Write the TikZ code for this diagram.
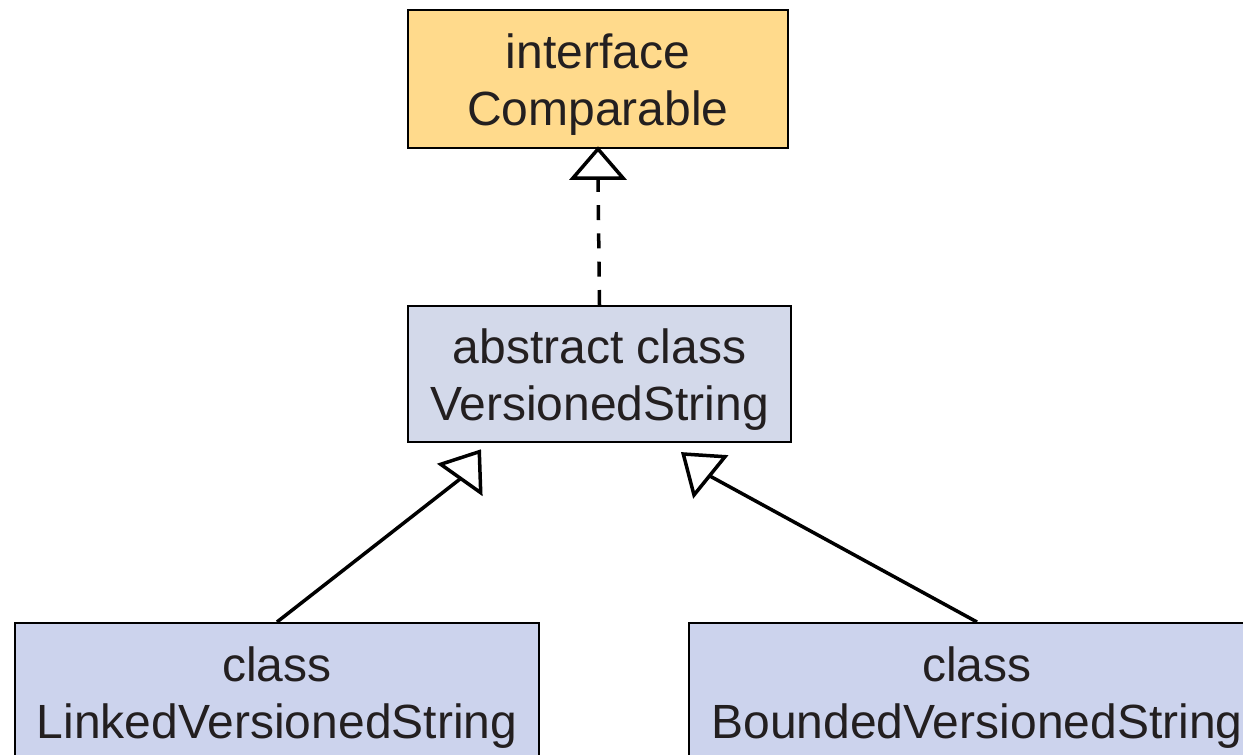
\documentclass[tikz,border=0pt]{standalone}
\usepackage{fontspec}
\setmainfont{Liberation Sans}
\usetikzlibrary{arrows.meta}
\definecolor{ifacefill}{RGB}{255,218,140}
\definecolor{absfill}{RGB}{211,217,234}
\definecolor{clsfill}{RGB}{204,211,237}
\definecolor{txt}{RGB}{35,31,32}
\newcommand{\topstrut}{\rule{0pt}{47pt}}
\newcommand{\botstrut}{\rule[-12pt]{0pt}{12pt}}
\tikzset{
  umlbox/.style={draw=black, line width=2pt, rectangle, inner sep=0pt, align=center,
    text=txt, font=\fontsize{48}{57}\selectfont},
  conn/.style={line width=3.5pt, black},
  tri/.style={line width=3.5pt, black, fill=white, line join=miter}
}
\begin{document}
\begin{tikzpicture}[x=1pt,y=-1pt]
\useasboundingbox (0,0) rectangle (1243,755);
\clip (0,0) rectangle (1243,755);
\node[umlbox, fill=ifacefill, minimum width=380pt, minimum height=138pt] (cmp) at (598,79)
  {\topstrut interface\\Comparable\botstrut};
\node[umlbox, fill=absfill, minimum width=383pt, minimum height=136pt] (vs) at (599.5,374)
  {\topstrut abstract class\\VersionedString\botstrut};
\node[umlbox, fill=clsfill, minimum width=524pt, minimum height=138pt] (lvs) at (277,692)
  {\topstrut class\\LinkedVersionedString\botstrut};
\node[umlbox, fill=clsfill, minimum width=576pt, minimum height=138pt] (bvs) at (977,692)
  {\topstrut class\\BoundedVersionedString\botstrut};
% realization (dashed)
\coordinate (b0) at (598,178);
\draw[conn, dash pattern=on 15pt off 13.3pt] (vs.north) -- (b0);
\draw[tri] (cmp.south) -- (623,178) -- (573,178) -- cycle;
% generalization left
\coordinate (b1) at (460.7,478.5);
\draw[conn] (lvs.north) -- (b1);
\draw[tri] (479.3,451.7) -- (440.7,464.3) -- (480.7,492.7) -- cycle;
% generalization right
\coordinate (b2) at (709.5,475.8);
\draw[conn] (bvs.north) -- (b2);
\draw[tri] (683.3,454) -- (725,456.7) -- (694,495) -- cycle;
\end{tikzpicture}
\end{document}
